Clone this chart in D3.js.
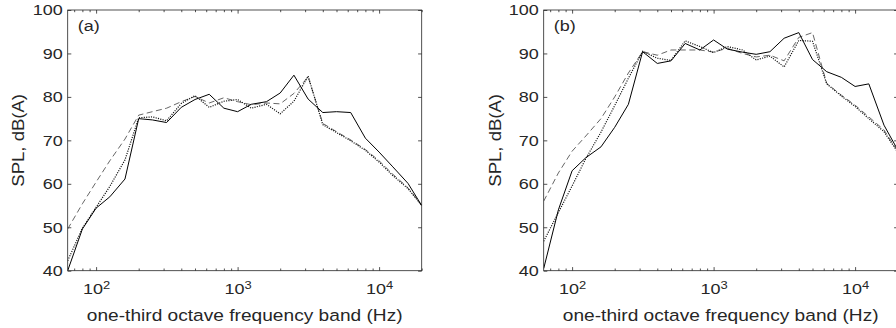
<!DOCTYPE html>
<html>
<head>
<meta charset="utf-8">
<title>SPL spectra</title>
<script src="https://cdn.jsdelivr.net/npm/d3@7"></script>
<style>
	body { margin: 0; background: #fff; }
	text { font-family: "Liberation Sans", Arial, sans-serif; fill: #262626; }
	.axis path, .axis line { stroke: #262626; stroke-width: 0.8; }
</style>
</head>
<body>
<script>

// one-third octave band centres (Hz)
var bands = [63, 80, 100, 125, 160, 200, 250, 315, 400, 500, 630, 800, 1000,
	1250, 1600, 2000, 2500, 3150, 4000, 5000, 6300, 8000, 10000, 12500, 16000, 20000];

// panel (a)
var solidA  = [40.0, 49.6, 54.4, 57.0, 61.1, 75.0, 74.7, 74.1, 77.6, 79.4, 80.6, 77.4, 76.6,
	78.3, 78.9, 80.9, 85.0, 79.5, 76.4, 76.6, 76.4, 70.5, 67.3, 63.9, 60.1, 55.0];
var dashedA = [49.6, 55.4, 60.4, 65.3, 70.3, 75.8, 76.6, 77.4, 78.9, 80.1, 78.6, 79.8, 78.9,
	78.2, 78.6, 78.4, 80.8, 84.6, 73.9, 72.0, 70.1, 67.9, 65.3, 62.2, 59.1, 55.0];
var dottedA = [42.3, 49.8, 54.6, 59.4, 65.5, 75.2, 75.4, 74.5, 78.5, 80.3, 77.6, 79.0, 79.4,
	77.4, 78.3, 76.1, 79.0, 84.8, 73.6, 71.8, 69.9, 67.7, 65.0, 61.9, 58.9, 55.0];

// panel (b)
var solidB  = [40.5, 54.0, 63.0, 66.0, 68.5, 73.0, 78.3, 90.4, 87.7, 88.3, 92.3, 90.8, 93.1,
	91.0, 90.3, 89.8, 90.4, 93.5, 94.8, 88.6, 85.8, 84.5, 82.4, 83.0, 73.5, 67.8];
var dashedB = [56.0, 62.5, 67.5, 71.0, 75.0, 80.0, 85.5, 90.4, 89.6, 90.8, 90.8, 90.8, 90.3,
	91.2, 90.0, 89.2, 89.6, 88.3, 93.7, 94.8, 83.1, 80.4, 78.1, 75.4, 72.4, 67.5];
var dottedB = [46.8, 53.4, 59.5, 65.8, 71.9, 78.0, 84.3, 90.5, 88.9, 88.4, 92.9, 91.6, 90.2,
	91.6, 90.8, 88.5, 89.4, 86.9, 93.0, 92.8, 83.0, 80.2, 77.8, 75.0, 72.0, 67.3];

var yTicks = [40, 50, 60, 70, 80, 90, 100];
var xTicks = [100, 1000, 10000];
var panelLabels = ["(a)", "(b)"];
var xLabel = "one-third octave frequency band (Hz)";
var yLabel = "SPL, dB(A)";

var svg_width = 896, svg_height = 328;
var plot_width = 354, plot_height = 260.7;
var panel_left = [67.7, 543.7];
var top_y = 10;
var k = 1.16;	// glyphs in the reference are wider than Arial

var svg = d3.select("body").append("svg")
	.attr("width", svg_width)
	.attr("height", svg_height);

var x = d3.scaleLog().domain([63, 20000]).range([0, plot_width]);
var y = d3.scaleLinear().domain([40, 100]).range([plot_height, 0]);
var minor = x.ticks().filter(function(d) { return xTicks.indexOf(d) < 0; });

svg.append("clipPath").attr("id", "clip")
	.append("rect").attr("width", plot_width).attr("height", plot_height);

// widen text along its baseline
function stretch(sel) {
	sel.each(function() {
		var t = d3.select(this);
		var x0 = +t.attr("x") || 0, y0 = +t.attr("y") || 0;
		var prev = t.attr("transform") || "";
		t.attr("transform", prev + " translate(" + x0 + "," + y0 + ") scale(" + k + ",1) translate(" + (-x0) + "," + (-y0) + ")");
	});
}

var line = d3.line()
	.x(function(d) { return x(d.f); })
	.y(function(d) { return y(d.v); });

function toPoints(arr) {
	return bands.map(function(f, i) { return {f: f, v: arr[i]}; });
}

function drawPanel(idx, solid, dashed, dotted) {
	var g = svg.append("g")
		.attr("transform", "translate(" + panel_left[idx] + "," + top_y + ")");

	// major + minor ticks, all pointing inwards
	g.append("g").attr("class", "axis")
		.attr("transform", "translate(0," + plot_height + ")")
		.call(d3.axisBottom(x).tickValues(minor).tickSize(-2.2).tickFormat(""));
	g.append("g").attr("class", "axis")
		.call(d3.axisTop(x).tickValues(minor).tickSize(-2.2).tickFormat(""));
	g.append("g").attr("class", "axis")
		.call(d3.axisTop(x).tickValues(xTicks).tickSize(-3.6).tickFormat(""));
	var xb = g.append("g").attr("class", "axis")
		.attr("transform", "translate(0," + plot_height + ")")
		.call(d3.axisBottom(x).tickValues(xTicks).tickSize(-3.6).tickPadding(12).tickFormat(""));
	xb.selectAll(".tick text")
		.attr("font-size", 15.5)
		.attr("text-anchor", "middle")
		.each(function(d) {
			var t = d3.select(this);
			t.append("tspan").text("10");
			t.append("tspan").attr("dy", "-0.45em").attr("font-size", "0.72em")
				.text(Math.round(Math.log10(d)));
		});

	var yl = g.append("g").attr("class", "axis")
		.call(d3.axisLeft(y).tickValues(yTicks).tickSize(-3.6).tickPadding(5));
	yl.selectAll(".tick text").attr("font-size", 15.5);
	g.append("g").attr("class", "axis")
		.attr("transform", "translate(" + plot_width + ",0)")
		.call(d3.axisRight(y).tickValues(yTicks).tickSize(-3.6).tickFormat(""));

	g.selectAll(".axis text").call(stretch);
	g.selectAll(".axis .domain").remove();

	g.append("rect")
		.attr("width", plot_width).attr("height", plot_height)
		.attr("fill", "none").attr("stroke", "#262626").attr("stroke-width", 0.8);

	var lines = g.append("g").attr("clip-path", "url(#clip)");
	lines.append("path").datum(toPoints(dashed))
		.attr("d", line).attr("fill", "none")
		.attr("stroke", "#555").attr("stroke-width", 0.9)
		.attr("stroke-dasharray", "6,3.5");
	lines.append("path").datum(toPoints(dotted))
		.attr("d", line).attr("fill", "none")
		.attr("stroke", "#111").attr("stroke-width", 1.2)
		.attr("stroke-dasharray", "1.1,1.3");
	lines.append("path").datum(toPoints(solid))
		.attr("d", line).attr("fill", "none")
		.attr("stroke", "#000").attr("stroke-width", 1);

	g.append("text")
		.attr("x", 10).attr("y", 21)
		.attr("font-size", 15.5)
		.text(panelLabels[idx])
		.call(stretch);

	g.append("text")
		.attr("x", plot_width / 2).attr("y", 311)
		.attr("text-anchor", "middle")
		.attr("font-size", 16.5)
		.text(xLabel)
		.call(stretch);

	g.append("text")
		.attr("transform", "translate(" + (idx === 0 ? -43.5 : -42.7) + "," + (plot_height / 2) + ") rotate(-90)")
		.attr("text-anchor", "middle")
		.attr("font-size", 16)
		.text(yLabel)
		.call(stretch);
}

drawPanel(0, solidA, dashedA, dottedA);
drawPanel(1, solidB, dashedB, dottedB);

</script>
</body>
</html>
